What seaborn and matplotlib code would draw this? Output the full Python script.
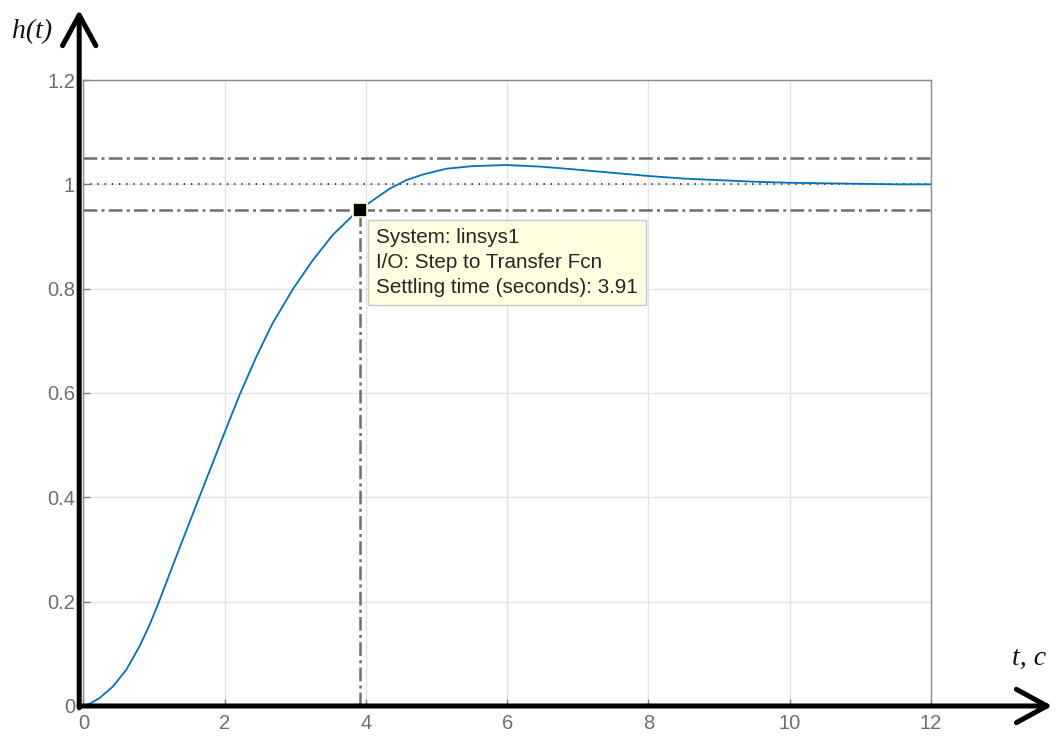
import numpy as np
import pandas as pd
import seaborn as sns
import matplotlib.pyplot as plt

# step response
t = [0, 0.085, 0.227, 0.415, 0.605, 0.793, 0.935, 1.053, 1.29, 1.64, 2.01,
     2.21, 2.45, 2.68, 2.97, 3.25, 3.53, 3.82, 3.91, 4.03, 4.34, 4.57, 4.81,
     5.14, 5.52, 5.99, 6.46, 6.74, 7.0, 7.5, 8.0, 8.5, 9.0, 9.5, 10.0, 10.5,
     11.0, 11.5, 12.0]
h = [0, 0.004, 0.015, 0.037, 0.069, 0.114, 0.155, 0.194, 0.278, 0.400, 0.528,
     0.596, 0.670, 0.734, 0.800, 0.855, 0.903, 0.941, 0.950, 0.963, 0.992,
     1.008, 1.019, 1.030, 1.035, 1.037, 1.034, 1.031, 1.028, 1.022, 1.016,
     1.011, 1.008, 1.005, 1.003, 1.002, 1.001, 1.0, 1.0]
settle_t = 3.91
settle_h = 0.95
band = [0.95, 1.05]
final = 1.0
x_ticks = [0, 2, 4, 6, 8, 10, 12]
y_ticks = [0, 0.2, 0.4, 0.6, 0.8, 1.0, 1.2]
y_labels = ['0', '0.2', '0.4', '0.6', '0.8', '1', '1.2']
tip_lines = ['System: linsys1', 'I/O: Step to Transfer Fcn',
             'Settling time (seconds): 3.91']

df = pd.DataFrame({'t': t, 'h': h})

sns.set_theme(style='whitegrid')
plt.rcParams['font.family'] = ['Liberation Sans', 'DejaVu Sans']

fig = plt.figure(figsize=(10.56, 7.36), dpi=100)
ax = fig.add_axes([0.0790, 0.0408, 0.8026, 0.8505])

sns.lineplot(data=df, x='t', y='h', ax=ax, color='#0072BD', linewidth=1.3,
             zorder=3)

# settling band and final value
dashdot = (0, (5.5, 1.7, 1.2, 1.7))
for b in band:
    ax.axhline(b, color='#6e6e6e', linewidth=1.8, linestyle=dashdot, zorder=2)
ax.axhline(final, color='#3a3a3a', linewidth=1.4, linestyle=(0, (0.7, 3.0)),
           zorder=2)
ax.plot([settle_t, settle_t], [0, settle_h], color='#6e6e6e', linewidth=1.8,
        linestyle=dashdot, zorder=2)
ax.plot([settle_t], [settle_h], marker='s', markersize=10, color='black',
        markeredgecolor='#ffffe1', markeredgewidth=1.2, zorder=5)

ax.annotate('\n'.join(tip_lines), xy=(settle_t, settle_h),
            xytext=(12, -13), textcoords='offset points', ha='left', va='top',
            fontsize=14.9, color='#262626', linespacing=1.38, zorder=6,
            bbox=dict(boxstyle='square,pad=0.4', fc='#ffffe1', ec='#c8c8c8',
                      lw=1))

ax.set_xlim(0, 12)
ax.set_ylim(0, 1.2)
ax.set_xticks(x_ticks)
ax.set_yticks(y_ticks)
ax.set_yticklabels(y_labels)
ax.set_xlabel('')
ax.set_ylabel('')
ax.tick_params(direction='in', length=5, width=1, colors='#808080',
               labelcolor='#6e6e6e', labelsize=14.5, pad=6,
               top=False, right=False, left=True, bottom=True)
ax.grid(True, color='#e3e3e3', linewidth=1)
for s in ax.spines.values():
    s.set_color('#8c8c8c')
    s.set_linewidth(1)

# thick black axis arrows
arr = dict(arrowstyle='->,head_length=1.1,head_width=0.6', lw=3.6,
           color='black', mutation_scale=20, shrinkA=0, shrinkB=0)
ax.annotate('', xy=(1.143, 0), xytext=(-0.005, 0), xycoords='axes fraction',
            arrowprops=arr, annotation_clip=False, zorder=10)
ax.annotate('', xy=(-0.005, 1.112), xytext=(-0.005, -0.003),
            xycoords='axes fraction', arrowprops=arr, annotation_clip=False,
            zorder=10)

fig.text(12 / 1056, 1 - 38 / 736, 'h(t)', family='Liberation Serif',
         style='italic', fontsize=20, color='#111111')
fig.text(1012 / 1056, 1 - 665 / 736, 't, c', family='Liberation Serif',
         style='italic', fontsize=20, color='#111111')

fig.savefig('out.png', dpi=100)
